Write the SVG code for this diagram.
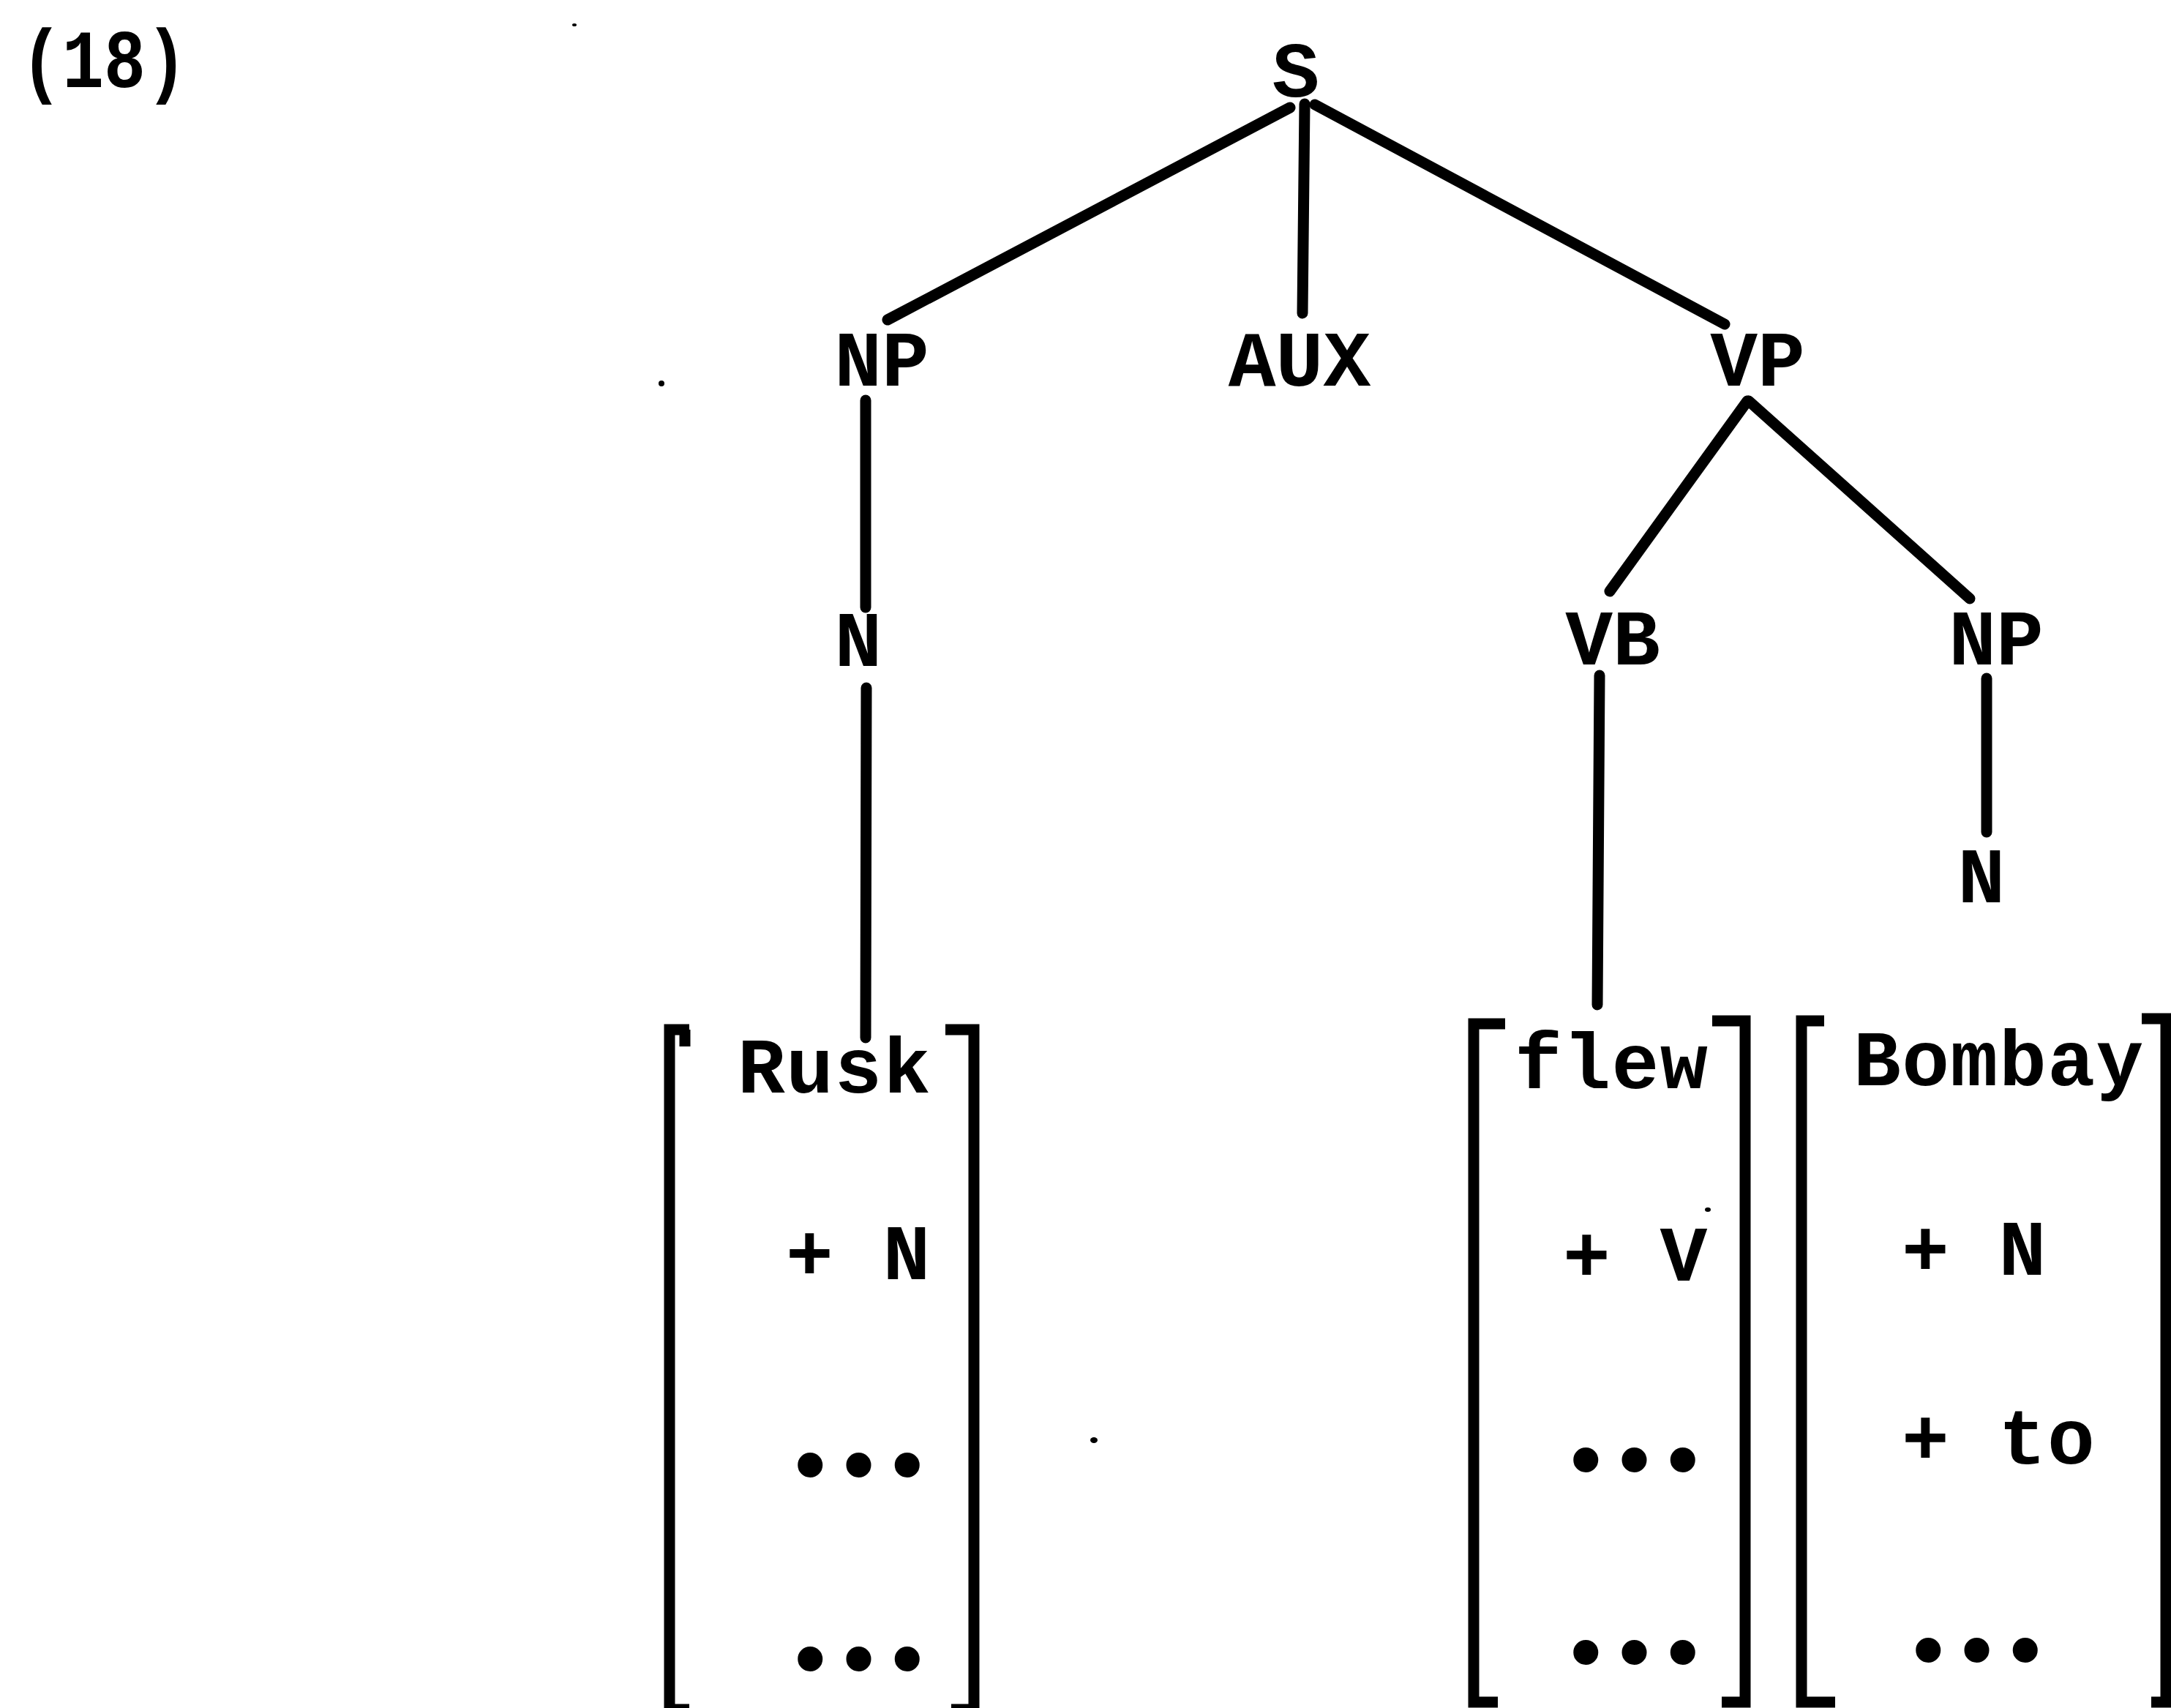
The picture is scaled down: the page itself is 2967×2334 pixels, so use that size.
<svg xmlns="http://www.w3.org/2000/svg" width="2967" height="2334" viewBox="0 0 2967 2334">
  <style>
    .t { font-family: "Liberation Mono", "Courier New", monospace; font-weight: bold; font-size: 108px; fill: #000; }
    .mid { text-anchor: middle; }
    .col { letter-spacing: 1.5px; }
    .dots { font-family: "Liberation Serif", "Times New Roman", serif; font-weight: bold; font-size: 210px; letter-spacing: 13.8px; fill: #000; }
    .edge { stroke: #000; stroke-width: 15; stroke-linecap: round; fill: none; }
    .brk { stroke: #000; stroke-width: 15; fill: none; stroke-linejoin: miter; }
    .speck { fill: #000; }
  </style>
  <rect width="2967" height="2334" fill="#fff"/>

  <!-- example number -->
  <g id="example-number">
    <text class="t mid" transform="translate(142,119) scale(0.88,1.05)" x="0" y="0" font-size="102">(18)</text>
  </g>

  <!-- tree edges -->
  <g id="connectors">
    <line class="edge" x1="1763" y1="147" x2="1213" y2="437"/>
    <line class="edge" x1="1783" y1="142" x2="1780" y2="428" stroke-width="16"/>
    <line class="edge" x1="1797" y1="143" x2="2357" y2="443"/>
    <line class="edge" x1="1183" y1="547" x2="1183" y2="830"/>
    <line class="edge" x1="1184" y1="940" x2="1183" y2="1418"/>
    <line class="edge" x1="2388" y1="548" x2="2200" y2="808"/>
    <line class="edge" x1="2390" y1="548" x2="2692" y2="818"/>
    <line class="edge" x1="2186" y1="923" x2="2183" y2="1373"/>
    <line class="edge" x1="2715" y1="927" x2="2715" y2="1137"/>
  </g>

  <!-- tree nodes -->
  <g id="node-S"><text class="t mid" x="1771" y="132">S</text></g>
  <g id="node-NP-subj"><text class="t mid" x="1205" y="527">NP</text></g>
  <g id="node-AUX"><text class="t mid" x="1776" y="527">AUX</text></g>
  <g id="node-VP"><text class="t mid" x="2402" y="527">VP</text></g>
  <g id="node-N-subj"><text class="t mid" x="1173" y="910">N</text></g>
  <g id="node-VB"><text class="t mid" x="2204" y="908">VB</text></g>
  <g id="node-NP-obj"><text class="t mid" x="2728" y="908">NP</text></g>
  <g id="node-N-obj"><text class="t mid" x="2708" y="1233">N</text></g>

  <!-- feature matrix: Rusk -->
  <g id="node-rusk">
    <path class="brk" d="M942 1407 H915 V2336 H942"/>
    <path class="brk" d="M936 1407 V1430"/>
    <path class="brk" d="M1292 1407 H1331 V2336 H1300"/>
    <text class="t col" x="1008" y="1493">Rusk</text>
    <text class="t col" x="1074" y="1748">+ N</text>
    <text class="dots" x="1081" y="2016">...</text>
    <text class="dots" x="1081" y="2281">...</text>
  </g>

  <!-- feature matrix: flew -->
  <g id="node-flew">
    <path class="brk" d="M2057 1399 H2014 V2326 H2047"/>
    <path class="brk" d="M2340 1395 H2385 V2326 H2353"/>
    <text class="t col" x="2070" y="1487">flew</text>
    <text class="t col" x="2136" y="1750">+ V</text>
    <text class="dots" x="2141" y="2009">...</text>
    <text class="dots" x="2141" y="2272">...</text>
  </g>

  <!-- feature matrix: Bombay -->
  <g id="node-bombay">
    <path class="brk" d="M2493 1395 H2462 V2326 H2508"/>
    <path class="brk" d="M2927 1392 H2960 V2326 H2940"/>
    <text class="t col" x="2533" y="1483">Bombay</text>
    <text class="t col" x="2599" y="1742">+ N</text>
    <text class="t col" x="2599" y="2000">+ to</text>
    <text class="dots" x="2609" y="2269">...</text>
  </g>

  <!-- stray marks on the page -->
  <g id="specks">
    <ellipse class="speck" cx="904" cy="524" rx="4" ry="4"/>
    <ellipse class="speck" cx="1495" cy="1968" rx="5" ry="4"/>
    <ellipse class="speck" cx="785" cy="34" rx="3" ry="2"/>
    <ellipse class="speck" cx="2334" cy="1653" rx="4" ry="3"/>
  </g>
</svg>
